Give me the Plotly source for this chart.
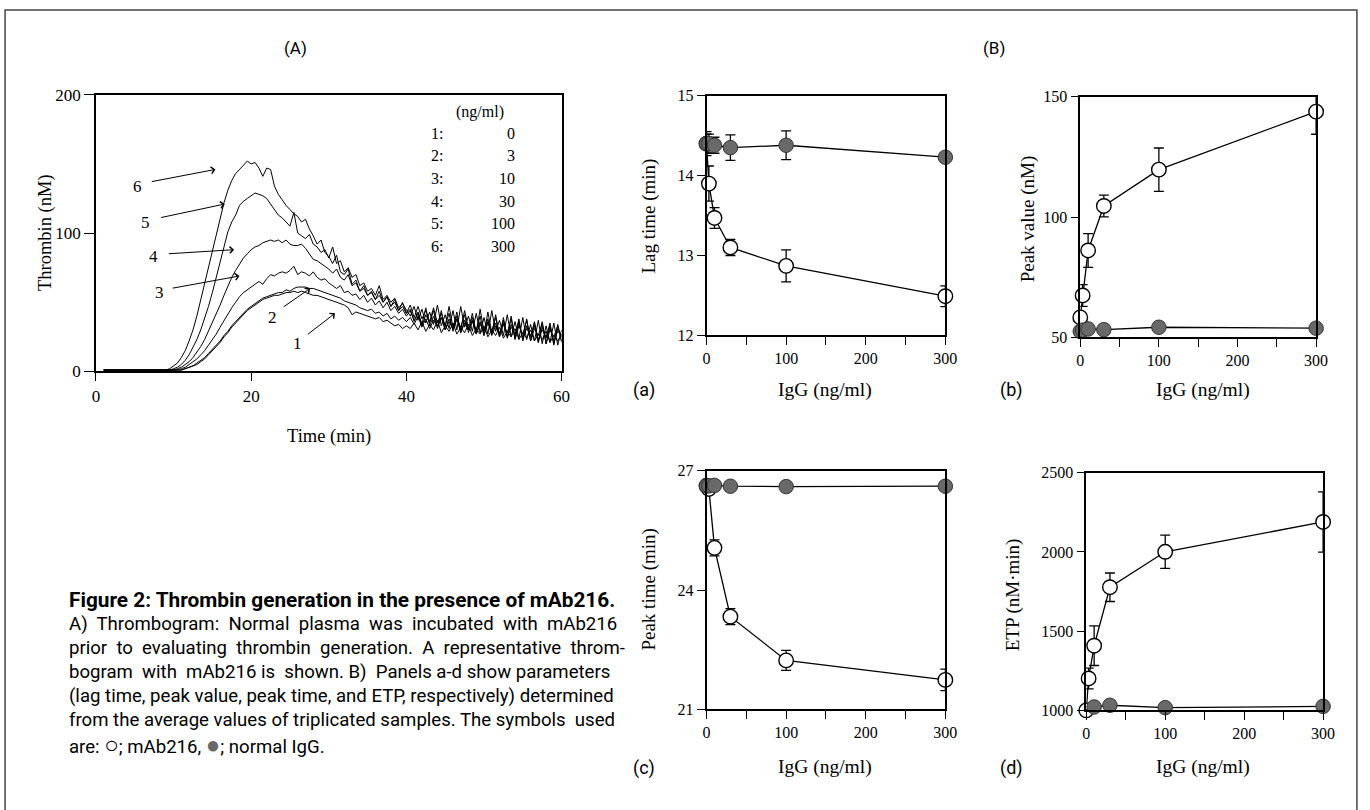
import plotly.graph_objects as go

# ---------------- Panel (A): thrombogram data ----------------
TIME_MIN = [1.0, 1.5, 2.0, 2.5, 3.0, 3.5, 4.0, 4.5, 5.0, 5.5, 6.0, 6.5, 7.0, 7.5, 8.0, 8.5,
            9.0, 9.5, 10.0, 10.5, 11.0, 11.5, 12.0, 12.5, 13.0, 13.5, 14.0, 14.5, 15.0, 15.5,
            16.0, 16.5, 17.0, 17.5, 18.0, 18.5, 19.0, 19.5, 20.0, 20.5, 21.0, 21.5, 22.0, 22.5,
            23.0, 23.5, 24.0, 24.5, 25.0, 25.5, 26.0, 26.5, 27.0, 27.5, 28.0, 28.5, 29.0, 29.5,
            30.0, 30.5, 31.0, 31.5, 32.0, 32.5, 33.0, 33.5, 34.0, 34.5, 35.0, 35.5, 36.0, 36.5,
            37.0, 37.5, 38.0, 38.5, 39.0, 39.5, 40.0, 40.5, 41.0, 41.5, 42.0, 42.5, 43.0, 43.5,
            44.0, 44.5, 45.0, 45.5, 46.0, 46.5, 47.0, 47.5, 48.0, 48.5, 49.0, 49.5, 50.0, 50.5,
            51.0, 51.5, 52.0, 52.5, 53.0, 53.5, 54.0, 54.5, 55.0, 55.5, 56.0, 56.5, 57.0, 57.5,
            58.0, 58.5, 59.0, 59.5, 60.0]

THROMBIN_300 = ([1, 1, 1, 1, 1, 1, 1, 1, 1, 1, 1, 1, 1, 1, 1, 1] +
                [1, 2, 4, 6, 10, 15, 22, 30, 40, 52, 64, 76, 88, 100, 112, 122, 131, 138, 143, 146,
                 149, 152, 150, 151, 147, 141, 147, 146, 134, 128, 124, 120, 117, 114, 112, 108, 110, 103, 98, 92,
                 95, 86, 83, 78, 84, 72, 70, 74, 63, 66, 58, 62, 55, 57, 52, 58, 50, 54, 47, 52,
                 44, 50, 42] +
                [48, 39, 47, 38, 44, 36, 46, 35, 42, 33, 47, 32, 40, 30, 44, 31, 39, 28, 45, 29,
                 38, 27, 41, 26, 37, 25, 40, 24, 36, 23, 38, 22, 35, 21, 36, 20, 33, 19, 34, 22])
THROMBIN_100 = ([1, 1, 1, 1, 1, 1, 1, 1, 1, 1, 1, 1, 1, 1, 1, 1, 1] +
                [1, 2, 3, 5, 8, 12, 17, 23, 30, 38, 47, 57, 68, 80, 92, 101, 108, 113, 120, 123,
                 125, 127, 129, 128, 127, 125, 121, 117, 113, 111, 108, 105, 115, 100, 98, 96, 99, 92, 90, 86,
                 88, 82, 90, 78, 80, 72, 75, 68, 70, 62, 64, 58, 60, 55, 62, 52, 55, 50, 53, 46,
                 49, 44] +
                [40, 47, 37, 45, 35, 43, 34, 48, 33, 41, 31, 44, 30, 47, 32, 40, 29, 42, 28, 39,
                 27, 44, 29, 37, 26, 41, 25, 36, 24, 39, 23, 34, 22, 37, 20, 33, 21, 35, 19, 30])
THROMBIN_30 = ([1, 1, 1, 1, 1, 1, 1, 1, 1, 1, 1, 1, 1, 1, 1, 1, 1, 1] +
               [1, 2, 3, 5, 7, 10, 14, 18, 23, 29, 35, 41, 48, 55, 62, 68, 73, 78, 82, 85,
                88, 90, 91, 93, 94, 95, 94, 95, 93, 95, 92, 91, 91, 92, 89, 85, 81, 80, 78, 76,
                74, 71, 74, 68, 66, 70, 62, 64, 58, 60, 55, 58, 52, 55, 50, 54, 47, 50, 44, 47,
                42] +
               [45, 36, 43, 34, 46, 33, 40, 32, 44, 30, 38, 31, 43, 28, 37, 30, 42, 27, 36, 26,
                43, 28, 35, 25, 39, 24, 34, 26, 38, 22, 33, 25, 36, 21, 32, 24, 35, 20, 31, 25])
THROMBIN_10 = ([1, 1, 1, 1, 1, 1, 1, 1, 1, 1, 1, 1, 1, 1, 1, 1, 1, 1, 1] +
               [1, 2, 3, 5, 7, 9, 12, 15, 19, 23, 27, 32, 37, 42, 46, 50, 54, 57, 59, 61,
                63, 65, 63, 67, 70, 69, 71, 72, 71, 73, 76, 70, 72, 71, 69, 72, 68, 66, 67, 64,
                62, 60, 62, 57, 58, 55, 56, 52, 55, 50, 53, 48, 51, 46, 50, 44, 47, 42, 45, 40] +
               [44, 37, 42, 33, 41, 35, 44, 31, 39, 33, 42, 29, 38, 32, 41, 28, 36, 30, 40, 26,
                35, 29, 39, 25, 34, 28, 38, 23, 33, 27, 37, 22, 31, 26, 35, 20, 30, 25, 33, 21])
THROMBIN_3 = ([1, 1, 1, 1, 1, 1, 1, 1, 1, 1, 1, 1, 1, 1, 1, 1, 1, 1, 1, 1] +
              [1, 2, 3, 4, 6, 8, 10, 13, 16, 19, 22, 26, 29, 33, 36, 39, 42, 45, 47, 49,
               51, 53, 54, 55, 56, 57, 57, 59, 58, 60, 61, 61, 61, 60, 60, 59, 58, 57, 56, 55,
               54, 53, 51, 50, 49, 48, 46, 45, 44, 45, 42, 43, 40, 42, 38, 40, 37, 39, 36] +
              [39, 34, 40, 32, 38, 31, 37, 33, 39, 30, 36, 31, 38, 28, 35, 30, 37, 27, 34, 29,
               36, 26, 33, 28, 35, 25, 32, 27, 34, 24, 31, 26, 33, 23, 30, 25, 32, 22, 29, 26])
THROMBIN_0 = ([1, 1, 1, 1, 1, 1, 1, 1, 1, 1, 1, 1, 1, 1, 1, 1, 1, 1, 1, 1] +
              [1, 2, 3, 4, 5, 7, 9, 12, 15, 18, 21, 25, 28, 32, 35, 38, 41, 44, 46, 48,
               50, 52, 53, 54, 55, 55, 56, 57, 57, 58, 57, 58, 57, 56, 55, 55, 54, 53, 52, 51,
               50, 49, 48, 46, 41, 43, 42, 41, 40, 39, 38, 39, 36, 37, 35, 33, 34, 31, 33] +
              [31, 35, 30, 36, 29, 34, 30, 37, 28, 33, 29, 35, 27, 32, 28, 34, 26, 31, 27, 33,
               25, 30, 26, 32, 24, 29, 25, 31, 23, 28, 24, 30, 22, 27, 23, 29, 21, 26, 22, 27])

CURVES = [THROMBIN_0, THROMBIN_3, THROMBIN_10, THROMBIN_30, THROMBIN_100, THROMBIN_300]
for c in CURVES:
    assert len(c) == len(TIME_MIN), len(c)

LEGEND_IDS = ["1:", "2:", "3:", "4:", "5:", "6:"]
LEGEND_CONC = ["0", "3", "10", "30", "100", "300"]

# ---------------- Panel (B): parameters vs IgG ----------------
IGG_X = [0, 3, 10, 30, 100, 300]

LAG_MAB = [14.4, 13.9, 13.47, 13.1, 12.87, 12.49]
LAG_MAB_ERR = [0.12, 0.22, 0.13, 0.1, 0.2, 0.13]
LAG_IGG = [14.4, 14.4, 14.38, 14.35, 14.38, 14.23]
LAG_IGG_ERR = [0.15, 0.12, 0.1, 0.16, 0.18, 0.03]

PEAK_MAB = [58.3, 67.4, 86.1, 104.6, 119.7, 143.8]
PEAK_MAB_ERR = [2, 4.5, 7, 4.5, 9, 9.4]
PEAK_IGG = [52.5, 53, 53.5, 53.2, 54.2, 53.8]
PEAK_IGG_ERR = [1, 1, 1, 1, 2, 1]

PTIME_MAB = [26.62, 26.54, 25.06, 23.33, 22.23, 21.74]
PTIME_MAB_ERR = [0.05, 0.05, 0.2, 0.2, 0.25, 0.27]
PTIME_IGG = [26.62, 26.62, 26.63, 26.61, 26.6, 26.61]
PTIME_IGG_ERR = [0.05, 0.05, 0.05, 0.05, 0.05, 0.05]

ETP_MAB = [1000, 1201, 1408, 1777, 2001, 2189]
ETP_MAB_ERR = [20, 65, 125, 90, 105, 190]
ETP_IGG = [990, 995, 1021, 1032, 1017, 1025]
ETP_IGG_ERR = [10, 10, 10, 10, 10, 10]

W, H = 1370, 810
SERIF = "Liberation Serif"
SANS = "Roboto"

# the photographed page comes out slightly scaled; compensate so that
# target pixel positions land where intended
SX, OX = 0.989, 5.0
SY, OY = 0.974, 10.5


def px(x):
    return min(max(((x - OX) / SX) / W, 0.0008), 0.9992)


def py(y):
    return 1 - min(max(((y - OY) / SY) / H, 0.0012), 0.9988)


fig = go.Figure()

for c in CURVES:
    fig.add_trace(go.Scatter(x=TIME_MIN, y=c, mode="lines", xaxis="x", yaxis="y",
                             line=dict(color="black", width=1), showlegend=False,
                             cliponaxis=True))

OPEN_MK = dict(symbol="circle", size=14.5, color="white", line=dict(color="black", width=1.4))
FILL_MK = dict(symbol="circle", size=14.5, color="#696969", line=dict(color="#333333", width=1))


def add_panel(xa, ya, mab, mab_err, igg, igg_err):
    fig.add_trace(go.Scatter(x=IGG_X, y=mab, mode="lines+markers", xaxis=xa, yaxis=ya,
                             marker=OPEN_MK, line=dict(color="black", width=1.3),
                             error_y=dict(type="data", array=mab_err, visible=True,
                                          color="black", thickness=1.3, width=5),
                             showlegend=False, cliponaxis=False))
    fig.add_trace(go.Scatter(x=IGG_X, y=igg, mode="lines+markers", xaxis=xa, yaxis=ya,
                             marker=FILL_MK, line=dict(color="black", width=1.3),
                             error_y=dict(type="data", array=igg_err, visible=True,
                                          color="black", thickness=1.3, width=5),
                             showlegend=False, cliponaxis=False))


add_panel("x2", "y2", LAG_MAB, LAG_MAB_ERR, LAG_IGG, LAG_IGG_ERR)
add_panel("x3", "y3", PEAK_MAB, PEAK_MAB_ERR, PEAK_IGG, PEAK_IGG_ERR)
add_panel("x4", "y4", PTIME_MAB, PTIME_MAB_ERR, PTIME_IGG, PTIME_IGG_ERR)
add_panel("x5", "y5", ETP_MAB, ETP_MAB_ERR, ETP_IGG, ETP_IGG_ERR)


def axis(domain, rng, tickvals, ticktext, anchor, size=16, ticklen=8):
    return dict(domain=domain, range=rng, tickvals=tickvals, ticktext=ticktext,
                ticks="outside", ticklen=ticklen, tickwidth=1.3, tickcolor="black",
                showline=True, linecolor="black", linewidth=1.5, mirror=True,
                showgrid=False, zeroline=False, anchor=anchor,
                tickfont=dict(family=SERIF, size=size, color="black"))


IGG_TICKS = [0, 50, 100, 150, 200, 250, 300]
IGG_TEXT = ["0", "", "100", "", "200", "", "300"]

layout = dict(
    width=W, height=H, margin=dict(l=0, r=0, t=0, b=0), autosize=False,
    paper_bgcolor="white", plot_bgcolor="white",
    xaxis=axis([px(97), px(563)], [0, 60], [0, 20, 40, 60], ["0", "20", "40", "60"], "y", size=17),
    yaxis=axis([py(372), py(96)], [0, 200], [0, 100, 200], ["0", "100", "200"], "x", size=17, ticklen=10),
    xaxis2=axis([px(708), px(947)], [0, 300], IGG_TICKS, IGG_TEXT, "y2"),
    yaxis2=axis([py(336), py(97)], [12, 15], [12, 13, 14, 15], ["12", "13", "14", "15"], "x2"),
    xaxis3=axis([px(1082), px(1318)], [0, 300], IGG_TICKS, IGG_TEXT, "y3"),
    yaxis3=axis([py(338), py(98)], [50, 150], [50, 100, 150], ["50", "100", "150"], "x3"),
    xaxis4=axis([px(708), px(947)], [0, 300], IGG_TICKS, IGG_TEXT, "y4"),
    yaxis4=axis([py(709), py(471)], [21, 27], [21, 24, 27], ["21", "24", "27"], "x4"),
    xaxis5=axis([px(1088), px(1325)], [0, 300], IGG_TICKS, IGG_TEXT, "y5"),
    yaxis5=axis([py(710), py(473)], [1000, 2500], [1000, 1500, 2000, 2500],
                ["1000", "1500", "2000", "2500"], "x5"),
)
fig.update_layout(**layout)

ann = []


def text(x, y, s, size=19, family=SERIF, angle=0, xanchor="center"):
    ann.append(dict(x=px(x), y=py(y), xref="paper", yref="paper", text=s, showarrow=False,
                    textangle=angle, xanchor=xanchor, yanchor="middle",
                    font=dict(family=family, size=size, color="black")))


# panel titles
text(297, 49, "(A)", size=17, family=SANS)
text(996, 49, "(B)", size=17, family=SANS)

# axis titles
text(46, 233, "Thrombin (nM)", size=18.5, angle=-90)
text(330, 437, "Time (min)", size=18.5)
text(650, 217, "Lag time (min)", angle=-90)
text(1030, 220, "Peak value (nM)", angle=-90)
text(650, 590, "Peak time (min)", angle=-90)
text(1015, 595, "ETP (nM·min)", angle=-90)
for (cx, cy) in [(827, 391), (1205, 391), (827, 767), (1205, 767)]:
    text(cx, cy, "IgG (ng/ml)", size=19.5)
for (lab, cx, cy) in [("(a)", 645, 391), ("(b)", 1013, 391), ("(c)", 645, 768), ("(d)", 1013, 768)]:
    text(cx, cy, lab, size=18, family=SANS)

# legend inside panel A
text(481, 113, "(ng/ml)", size=16)
LEG_Y = [135, 157, 180, 202, 224, 247]
for i in range(6):
    text(430, LEG_Y[i], LEGEND_IDS[i], size=16, xanchor="left")
    ann.append(dict(x=px(518), y=py(LEG_Y[i]), xref="paper", yref="paper", text=LEGEND_CONC[i],
                    showarrow=False, xanchor="right", yanchor="middle",
                    font=dict(family=SERIF, size=16, color="black")))

# arrows with curve numbers (tip t, tip value, tail t, tail value, label t, label value)
ARROWS = [("6", 15.4, 146, 7.0, 137, 5.3, 134),
          ("5", 16.6, 121, 8.2, 111, 6.4, 108),
          ("4", 17.8, 88, 9.2, 85, 7.4, 83),
          ("3", 18.5, 69, 9.7, 60, 8.2, 57),
          ("2", 27.6, 60, 24.0, 46, 22.7, 39),
          ("1", 30.8, 42, 27.1, 26, 26.0, 20)]
for lab, tx, ty, sx, sy, lx, ly in ARROWS:
    ann.append(dict(x=tx, y=ty, ax=sx, ay=sy, xref="x", yref="y", axref="x", ayref="y",
                    text="", showarrow=True, arrowhead=4, arrowsize=1.3, arrowwidth=1,
                    arrowcolor="black", standoff=0))
    ann.append(dict(x=lx, y=ly, xref="x", yref="y", text=lab, showarrow=False,
                    font=dict(family=SERIF, size=17, color="black")))

# caption (extra non-breaking spaces imitate the justified block)
S = "\u00a0"
CAPTION = [
    "<b>Figure 2: Thrombin generation in the presence of mAb216.</b>",
    ("A)" + S + " Thrombogram:" + S + " Normal" + S + " plasma" + S + " was" + S +
     " incubated" + S + " with" + S + " mAb216"),
    ("prior" + S + " to" + S + " evaluating" + S + " thrombin" + S + " generation." + S +
     " A" + S + " representative" + S + " throm-"),
    ("bogram" + S + " with" + S + " mAb216 is" + S + " shown. B)" + S + " Panels a-d show parameters"),
    "(lag time, peak value, peak time, and ETP, respectively) determined",
    "from the average values of triplicated samples. The symbols" + S + " used",
    ("are: <span style='font-size:24px'>○</span>; mAb216, "
     "<span style='color:#696969;font-size:24px'>●</span>; normal IgG."),
]
CAP_Y = [600, 624, 648, 672, 696, 720, 745]
CAP_SIZE = [20.8, 18.6, 18.6, 18.6, 18.6, 18.6, 18.6]
for s, yy, fs in zip(CAPTION, CAP_Y, CAP_SIZE):
    ann.append(dict(x=px(68), y=py(yy), xref="paper", yref="paper", text=s, showarrow=False,
                    xanchor="left", yanchor="middle",
                    font=dict(family=SANS, size=fs, color="black")))

fig.update_layout(annotations=ann)

# outer frame of the figure
fig.add_shape(type="rect", xref="paper", yref="paper", x0=px(5), x1=px(1363),
              y0=-0.02, y1=py(10), line=dict(color="#444", width=1.5))

fig.write_html("out.html",
               config={"displayModeBar": False},
               post_script="document.body.style.margin='0';document.body.style.overflow='hidden';")
